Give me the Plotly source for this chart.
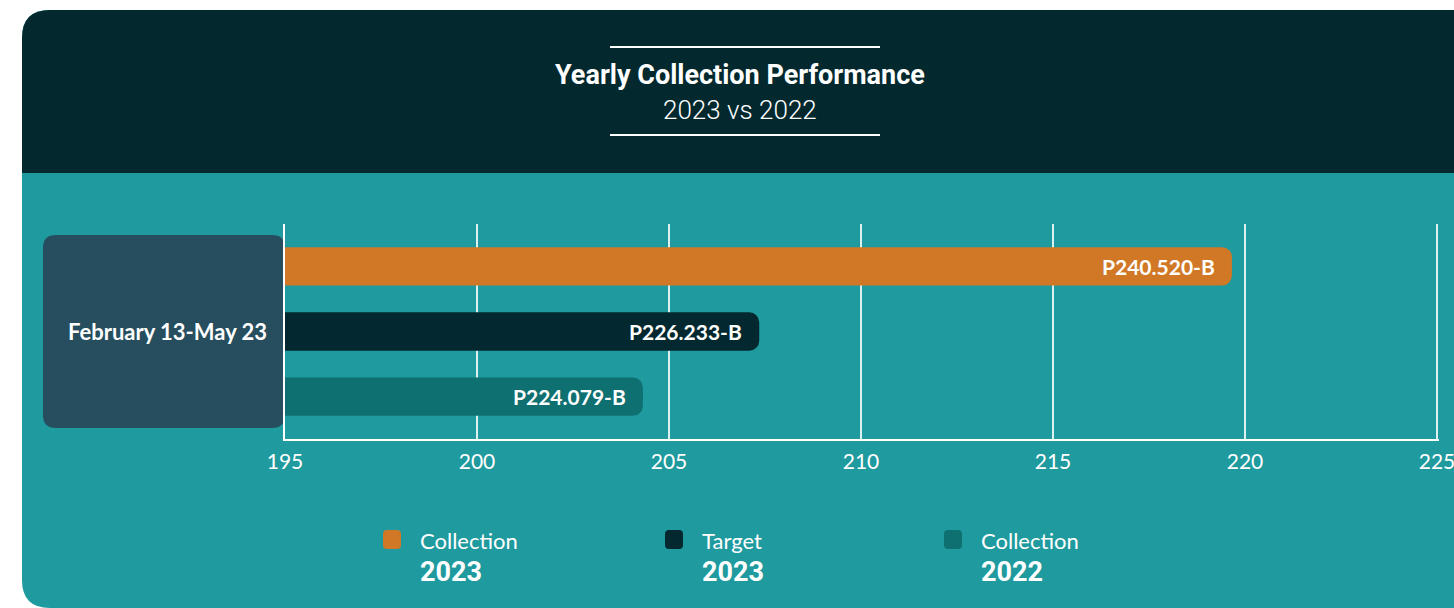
import plotly.graph_objects as go

# ---------------- data ----------------
categories = ["Collection 2023", "Target 2023", "Collection 2022"]
series_names = ["Collection", "Target", "Collection"]
series_years = ["2023", "2023", "2022"]
bar_values = [219.66, 207.35, 204.32]
bar_labels = ["P240.520-B", "P226.233-B", "P224.079-B"]
period_label = "February 13-May 23"
x_ticks = [195, 200, 205, 210, 215, 220, 225]
title_main = "Yearly Collection Performance"
title_sub = "2023 vs 2022"

# ---------------- styles ----------------
W, H = 1454, 608
bar_colors = ["#d07826", "#03282f", "#0f7071"]
HEADER = "#03292f"
TEAL = "#1f9a9e"
BOX = "#264e5e"
COND = "Roboto, sans-serif"
BODY = "Lato, Open Sans, sans-serif"
BASE = 194.6
X_MAX = 225.05


def px(x):
    return x / W


def py(y):
    return 1 - y / H


def rrect(x0, y0, x1, y1, r, top=True, bottom=True):
    """rounded rect path in paper coords from pixel coords"""
    rt = r if top else 0
    rb = r if bottom else 0
    pts = []
    pts.append(f"M {px(x0 + rt)},{py(y0)}")
    pts.append(f"L {px(x1 - rt)},{py(y0)}")
    if rt:
        pts.append(f"Q {px(x1)},{py(y0)} {px(x1)},{py(y0 + rt)}")
    pts.append(f"L {px(x1)},{py(y1 - rb)}")
    if rb:
        pts.append(f"Q {px(x1)},{py(y1)} {px(x1 - rb)},{py(y1)}")
    pts.append(f"L {px(x0 + rb)},{py(y1)}")
    if rb:
        pts.append(f"Q {px(x0)},{py(y1)} {px(x0)},{py(y1 - rb)}")
    pts.append(f"L {px(x0)},{py(y0 + rt)}")
    if rt:
        pts.append(f"Q {px(x0)},{py(y0)} {px(x0 + rt)},{py(y0)}")
    pts.append("Z")
    return " ".join(pts)


ypos = list(range(len(categories)))

fig = go.Figure()
fig.add_trace(go.Bar(
    y=ypos,
    x=[v - BASE for v in bar_values],
    base=BASE,
    orientation="h",
    width=0.59,
    marker=dict(color=bar_colors, cornerradius=10, line=dict(width=0)),
    hoverinfo="skip",
    showlegend=False,
))

shapes = []
shapes.append(dict(type="path", xref="paper", yref="paper", layer="below",
                   path=rrect(22, 10, 1490, 608, 28), fillcolor=TEAL, line=dict(width=0)))
shapes.append(dict(type="path", xref="paper", yref="paper", layer="below",
                   path=rrect(22, 10, 1490, 173, 28, top=True, bottom=False),
                   fillcolor=HEADER, line=dict(width=0)))
for yy in (47, 135):
    shapes.append(dict(type="line", xref="paper", yref="paper",
                       x0=px(610), x1=px(880), y0=py(yy), y1=py(yy),
                       line=dict(color="white", width=2)))
shapes.append(dict(type="path", xref="paper", yref="paper", layer="below",
                   path=rrect(43, 235, 285, 428, 13), fillcolor=BOX, line=dict(width=0)))

annotations = []
annotations.append(dict(xref="paper", yref="paper", x=px(740), y=py(75),
                        text=f"<b>{title_main}</b>", showarrow=False,
                        font=dict(family=COND, size=27, color="white"),
                        xanchor="center", yanchor="middle"))
annotations.append(dict(xref="paper", yref="paper", x=px(740), y=py(110),
                        text=title_sub, showarrow=False,
                        font=dict(family=COND, size=26, color="white", weight=300),
                        xanchor="center", yanchor="middle"))
annotations.append(dict(xref="paper", yref="paper", x=px(167), y=py(331),
                        text=f"<b>{period_label}</b>", showarrow=False,
                        font=dict(family=BODY, size=22, color="white"),
                        xanchor="center", yanchor="middle"))
for i, (v, lab) in enumerate(zip(bar_values, bar_labels)):
    annotations.append(dict(xref="x", yref="y", x=v, y=ypos[i], text=f"<b>{lab}</b>",
                            showarrow=False, xanchor="right", yanchor="middle",
                            xshift=-15, font=dict(family=BODY, size=21, color="white")))

leg_sq_x = [383, 665, 944]
for i in range(len(categories)):
    x0 = leg_sq_x[i]
    shapes.append(dict(type="path", xref="paper", yref="paper",
                       path=rrect(x0, 530, x0 + 18, 549, 4), fillcolor=bar_colors[i],
                       line=dict(width=0)))
    annotations.append(dict(xref="paper", yref="paper", x=px(x0 + 35), y=py(540),
                            text=series_names[i], showarrow=False, xanchor="left",
                            yanchor="middle", font=dict(family=BODY, size=22, color="white")))
    annotations.append(dict(xref="paper", yref="paper", x=px(x0 + 35), y=py(572),
                            text=f"<b>{series_years[i]}</b>", showarrow=False, xanchor="left",
                            yanchor="middle", font=dict(family=COND, size=27, color="white")))

px_per_unit = (1437 - 285) / 30.0
fig.update_layout(
    width=W, height=H,
    margin=dict(l=0, r=0, t=0, b=0, pad=0, autoexpand=False),
    paper_bgcolor="white",
    plot_bgcolor="rgba(0,0,0,0)",
    shapes=shapes,
    annotations=annotations,
    showlegend=False,
    xaxis=dict(domain=[px(285), px(1437 + (X_MAX - 225) * px_per_unit)],
               range=[195, X_MAX], tickvals=x_ticks,
               ticktext=[str(t) for t in x_ticks], automargin=False,
               ticklabeloverflow="allow",
               showgrid=True, gridcolor="rgba(255,255,255,0.85)", gridwidth=1.5,
               zeroline=False, showline=True, linecolor="white", linewidth=2,
               ticks="", ticklabelstandoff=3,
               tickfont=dict(family=BODY, size=21, color="white"), fixedrange=True),
    yaxis=dict(domain=[py(439), py(224)], range=[2.65, -0.65], showticklabels=False,
               showgrid=False, zeroline=False, showline=True, linecolor="white",
               linewidth=2, fixedrange=True, automargin=False),
)

fig.write_html(
    "out.html",
    config={"displayModeBar": False, "staticPlot": True},
    post_script="document.body.style.margin='0';document.body.style.overflow='hidden';",
)
